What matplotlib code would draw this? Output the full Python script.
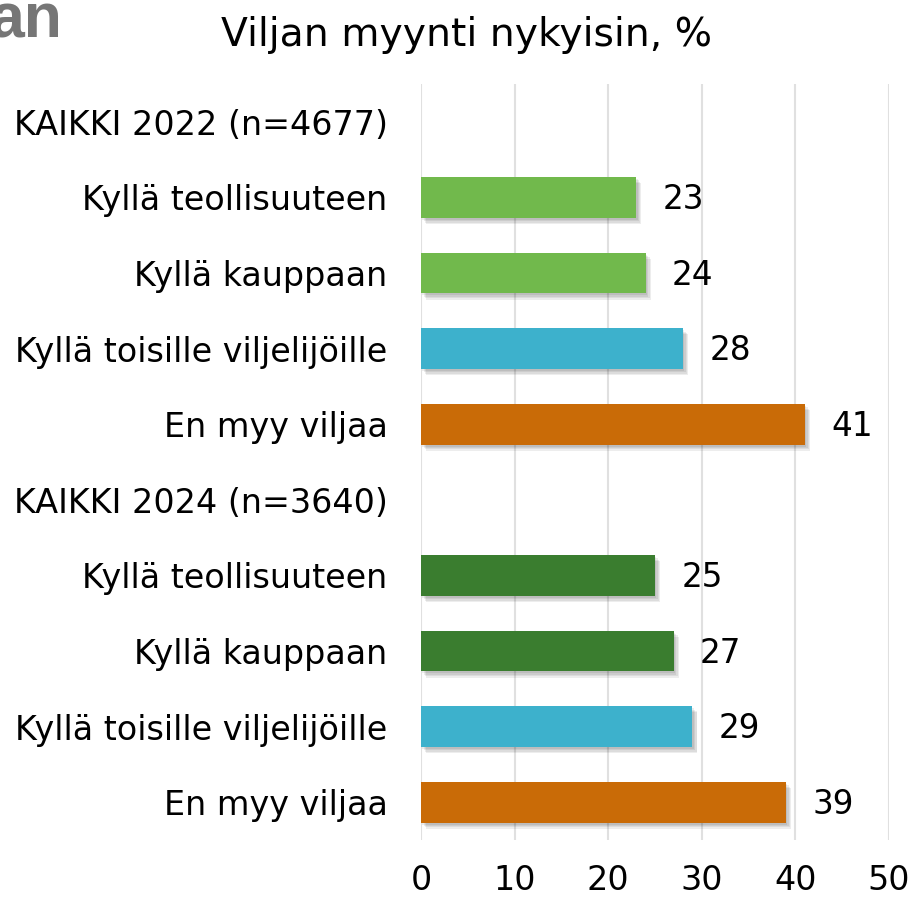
import matplotlib
matplotlib.use("Agg")
import matplotlib.pyplot as plt
import matplotlib.patheffects as pe
import numpy as np

# Data
categories = [
    "KAIKKI 2022 (n=4677)",
    "Kyllä teollisuuteen",
    "Kyllä kauppaan",
    "Kyllä toisille viljelijöille",
    "En myy viljaa",
    "KAIKKI 2024 (n=3640)",
    "Kyllä teollisuuteen",
    "Kyllä kauppaan",
    "Kyllä toisille viljelijöille",
    "En myy viljaa",
]
values = [None, 23, 24, 28, 41, None, 25, 27, 29, 39]
bar_colors = [None, "#71b94c", "#71b94c", "#3db1cc", "#c96b07",
              None, "#3a7d2f", "#3a7d2f", "#3db1cc", "#c96b07"]
xticks = [0, 10, 20, 30, 40, 50]

plt.rcParams['font.family'] = ['DejaVu Sans']

fig = plt.figure(figsize=(9.14, 8.97), dpi=100)
ax = fig.add_axes([421 / 914, 1 - 840 / 897, 468 / 914, 756 / 897])

y = np.arange(len(categories))

# soft drop shadow built from a few offset layers
shadow = [pe.SimplePatchShadow(offset=(dx, dy), shadow_rgbFace="black", alpha=0.07)
          for dx, dy in [(1, -1.5), (2, -2.5), (3, -3.5), (3.5, -4.5)]]

for i, v in enumerate(values):
    if v is None:
        continue
    ax.barh(y[i], v, height=0.54, color=bar_colors[i], zorder=3,
            path_effects=shadow + [pe.Normal()])
    ax.text(v + 2.8, y[i] + 0.03, str(v), va="center", ha="left", fontsize=23.5)

ax.set_xlim(0, 50)
ax.set_ylim(len(categories) - 0.5, -0.5)
ax.set_xticks(xticks)
ax.set_yticks(y)
ax.set_yticklabels(categories)
ax.tick_params(axis="both", length=0, labelsize=24, colors="black")
ax.tick_params(axis="y", pad=24)
ax.tick_params(axis="x", pad=17)
ax.grid(axis="x", color="#e0e0e0", linewidth=1.5, zorder=0)
for s in ax.spines.values():
    s.set_visible(False)

fig.text(467 / 914, 1 - 35 / 897, "Viljan myynti nykyisin, %", ha="center", va="center", fontsize=28.3)
fig.text(62 / 914, 1 - 37 / 897, "an", ha="right", va="baseline", fontsize=45,
         fontweight="bold", color="#767676", family="Liberation Sans")

fig.savefig("out.png", dpi=100)
